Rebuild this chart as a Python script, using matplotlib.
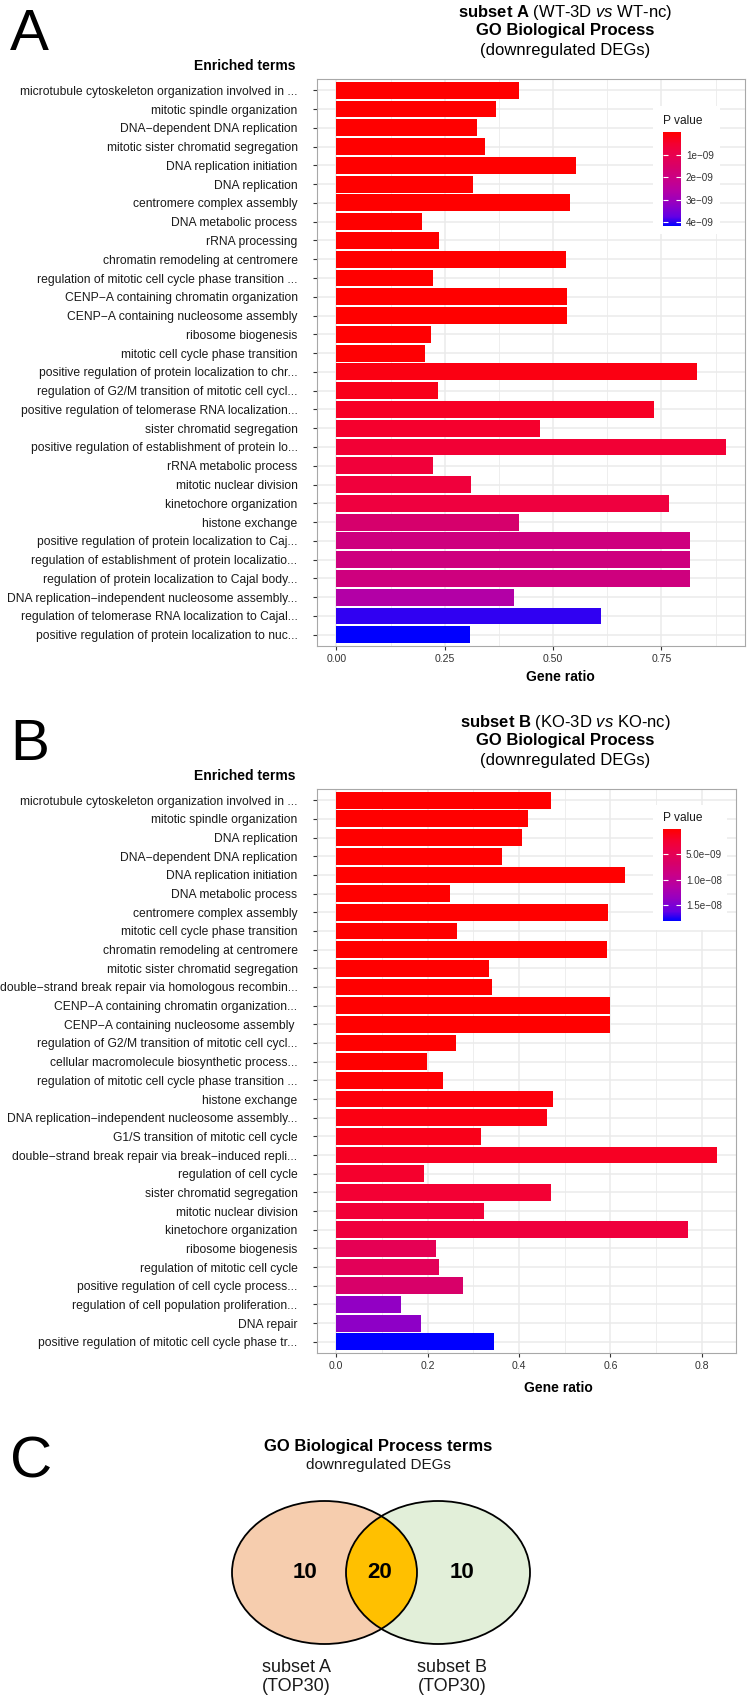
import numpy as np
import matplotlib
matplotlib.use("Agg")
import matplotlib.pyplot as plt
from matplotlib.colors import LinearSegmentedColormap, Normalize
from matplotlib.cm import ScalarMappable
from matplotlib.patches import Ellipse, Rectangle

plt.rcParams['font.family'] = ['Liberation Sans', 'DejaVu Sans']
plt.rcParams['mathtext.fontset'] = 'custom'
plt.rcParams['mathtext.rm'] = 'Liberation Sans'
plt.rcParams['mathtext.it'] = 'Liberation Sans:italic'
plt.rcParams['mathtext.bf'] = 'Liberation Sans:bold'

# ---- data, panel A (subset A) ----
terms_a = [
    "microtubule cytoskeleton organization involved in ...",
    "mitotic spindle organization",
    "DNA\u2212dependent DNA replication",
    "mitotic sister chromatid segregation",
    "DNA replication initiation",
    "DNA replication",
    "centromere complex assembly",
    "DNA metabolic process",
    "rRNA processing",
    "chromatin remodeling at centromere",
    "regulation of mitotic cell cycle phase transition ...",
    "CENP\u2212A containing chromatin organization",
    "CENP\u2212A containing nucleosome assembly",
    "ribosome biogenesis",
    "mitotic cell cycle phase transition",
    "positive regulation of protein localization to chr...",
    "regulation of G2/M transition of mitotic cell cycl...",
    "positive regulation of telomerase RNA localization...",
    "sister chromatid segregation",
    "positive regulation of establishment of protein lo...",
    "rRNA metabolic process",
    "mitotic nuclear division",
    "kinetochore organization",
    "histone exchange",
    "positive regulation of protein localization to Caj...",
    "regulation of establishment of protein localizatio...",
    "regulation of protein localization to Cajal body...",
    "DNA replication\u2212independent nucleosome assembly...",
    "regulation of telomerase RNA localization to Cajal...",
    "positive regulation of protein localization to nuc...",
]
ratio_a = [0.421, 0.368, 0.325, 0.342, 0.552, 0.314, 0.539, 0.198, 0.236, 0.530,
           0.223, 0.532, 0.532, 0.218, 0.205, 0.832, 0.234, 0.732, 0.470, 0.898,
           0.222, 0.310, 0.767, 0.421, 0.816, 0.816, 0.816, 0.410, 0.610, 0.308]
pval_a = [2.1e-17, 8.4e-16, 3.3e-15, 1.0e-14, 4.6e-14, 9.9e-14, 3.1e-13, 6.2e-13, 1.4e-12, 3.0e-12,
          6.5e-12, 1.1e-11, 1.1e-11, 2.4e-11, 4.8e-11, 2.1e-10, 2.7e-10, 4.0e-10, 4.8e-10, 6.0e-10,
          6.7e-10, 7.1e-10, 7.5e-10, 1.6e-09, 1.91e-09, 1.91e-09, 1.91e-09, 2.62e-09, 3.95e-09, 4.16e-09]

# ---- data, panel B (subset B) ----
terms_b = [
    "microtubule cytoskeleton organization involved in ...",
    "mitotic spindle organization",
    "DNA replication",
    "DNA\u2212dependent DNA replication",
    "DNA replication initiation",
    "DNA metabolic process",
    "centromere complex assembly",
    "mitotic cell cycle phase transition",
    "chromatin remodeling at centromere",
    "mitotic sister chromatid segregation",
    "double\u2212strand break repair via homologous recombin...",
    "CENP\u2212A containing chromatin organization...",
    "CENP\u2212A containing nucleosome assembly ",
    "regulation of G2/M transition of mitotic cell cycl...",
    "cellular macromolecule biosynthetic process...",
    "regulation of mitotic cell cycle phase transition ...",
    "histone exchange",
    "DNA replication\u2212independent nucleosome assembly...",
    "G1/S transition of mitotic cell cycle",
    "double\u2212strand break repair via break\u2212induced repli...",
    "regulation of cell cycle",
    "sister chromatid segregation",
    "mitotic nuclear division",
    "kinetochore organization",
    "ribosome biogenesis",
    "regulation of mitotic cell cycle",
    "positive regulation of cell cycle process...",
    "regulation of cell population proliferation...",
    "DNA repair",
    "positive regulation of mitotic cell cycle phase tr...",
]
ratio_b = [0.469, 0.420, 0.407, 0.364, 0.631, 0.250, 0.594, 0.264, 0.593, 0.334,
           0.341, 0.600, 0.600, 0.262, 0.198, 0.234, 0.474, 0.462, 0.318, 0.833,
           0.193, 0.470, 0.324, 0.769, 0.219, 0.225, 0.277, 0.143, 0.185, 0.345]
pval_b = [1.5e-16, 2.2e-15, 7.9e-15, 2.6e-14, 8.1e-14, 2.4e-13, 5.5e-13, 1.2e-12, 2.7e-12, 5.8e-12,
          1.0e-11, 1.6e-11, 1.6e-11, 3.2e-11, 6.1e-11, 1.1e-10, 5.4e-10, 9.0e-10, 1.18e-09, 1.63e-09,
          2.08e-09, 2.53e-09, 2.72e-09, 3.17e-09, 4.9e-09, 5.25e-09, 6.7e-09, 1.38e-08, 1.40e-08, 1.81e-08]

cbar_ticks_a = [1e-9, 2e-9, 3e-9, 4e-9]
cbar_labels_a = ["1e\u221209", "2e\u221209", "3e\u221209", "4e\u221209"]
cbar_ticks_b = [5e-9, 1e-8, 1.5e-8]
cbar_labels_b = ["5.0e\u221209", "1.0e\u221208", "1.5e\u221208"]

# ---- data, panel C (venn) ----
venn_counts = [10, 20, 10]
venn_sets = ["subset A\n(TOP30)", "subset B\n(TOP30)"]

W, H = 749, 1698
fig = plt.figure(figsize=(W / 100, H / 100), dpi=100)


def px(x0, y0, x1, y1):
    # pixel box (top-left origin) -> figure fraction rect
    return [x0 / W, 1 - y1 / H, (x1 - x0) / W, (y1 - y0) / H]


# ggplot red->blue gradient (Lab interpolated, sampled)
cmap = LinearSegmentedColormap.from_list("pv", [
    (0.0, "#FF0000"), (0.125, "#F40031"), (0.25, "#E80050"), (0.375, "#D7006A"),
    (0.5, "#C90088"), (0.625, "#B500A5"), (0.75, "#9700C0"), (0.9, "#6500E4"),
    (1.0, "#0000FF")])

TXT = "#333333"


def bar_panel(rect, terms, ratio, pval, major, minor, cb_rect, bg_rect, ticks, tlabels):
    ax = fig.add_axes(px(*rect))
    n = len(terms)
    norm = Normalize(min(pval), max(pval))
    ax.barh(np.arange(n), ratio, height=0.9, color=cmap(norm(np.array(pval))), zorder=2)
    xmax = max(ratio)
    ax.set_xlim(-0.05 * xmax, 1.05 * xmax)
    ax.set_ylim(n - 1 + 0.6, -0.6)
    ax.set_yticks(np.arange(n))
    ax.set_yticklabels(terms, fontsize=8.7, color="#1a1a1a")
    ax.set_xticks(major)
    ax.set_xticklabels(["%g" % v if len(str(v)) > 3 else str(v) for v in major])
    ax.set_xticks(minor, minor=True)
    ax.set_axisbelow(True)
    ax.grid(which="major", color="#EBEBEB", lw=1.1)
    ax.grid(which="minor", axis="x", color="#EBEBEB", lw=0.6)
    ax.tick_params(axis="y", length=3, width=0.8, color="#333333", pad=11)
    ax.tick_params(axis="x", length=3, width=0.8, color="#333333", pad=3,
                   labelsize=7.6, labelcolor=TXT)
    ax.tick_params(which="minor", length=0)
    for s in ax.spines.values():
        s.set_color("#A8A8A8")
        s.set_linewidth(0.8)
    # legend background
    ax.add_patch(Rectangle((bg_rect[0] / W, 1 - bg_rect[3] / H), (bg_rect[2] - bg_rect[0]) / W,
                           (bg_rect[3] - bg_rect[1]) / H, transform=fig.transFigure,
                           facecolor="white", edgecolor="none", zorder=1))
    cax = fig.add_axes(px(*cb_rect))
    cb = fig.colorbar(ScalarMappable(norm=norm, cmap=cmap), cax=cax)
    cb.outline.set_visible(False)
    cax.invert_yaxis()
    cb.set_ticks(ticks)
    cb.set_ticklabels(tlabels)
    cax.yaxis.set_ticks_position("both")
    cax.tick_params(direction="in", length=3.6, width=0.8, color="white",
                    labelsize=7.1, labelcolor=TXT, pad=3.6, labelleft=False, labelright=True)
    cax.minorticks_off()
    fig.text(cb_rect[0] / W, 1 - (cb_rect[1] - 11) / H, "P value", fontsize=8.6,
             color="#1a1a1a", ha="left", va="center")
    return ax


ax_a = bar_panel((317, 79, 745, 646), terms_a, ratio_a, pval_a,
                 [0.0, 0.25, 0.5, 0.75], [0.125, 0.375, 0.625, 0.875],
                 (663, 132, 681, 226), (653, 106, 720, 234), cbar_ticks_a, cbar_labels_a)
ax_a.set_xticklabels(["0.00", "0.25", "0.50", "0.75"])
ax_b = bar_panel((317, 789, 736, 1353), terms_b, ratio_b, pval_b,
                 [0.0, 0.2, 0.4, 0.6, 0.8], [0.1, 0.3, 0.5, 0.7],
                 (663, 829, 681, 921), (653, 805, 727, 930), cbar_ticks_b, cbar_labels_b)
ax_b.set_xticklabels(["0.0", "0.2", "0.4", "0.6", "0.8"])

# titles / axis titles
for top, sub in [(0, r"$\bf{subset\ A}$ (WT-3D $\it{vs}$ WT-nc)"),
                 (710, r"$\bf{subset\ B}$ (KO-3D $\it{vs}$ KO-nc)")]:
    cx = 565 / W
    fig.text(cx, 1 - (top + 13) / H, sub, fontsize=12, ha="center", va="center")
    fig.text(cx, 1 - (top + 31) / H, "GO Biological Process", fontsize=12,
             fontweight="bold", ha="center", va="center")
    fig.text(cx, 1 - (top + 50) / H, "(downregulated DEGs)", fontsize=12,
             ha="center", va="center")
    fig.text(296 / W, 1 - (top + 66) / H, "Enriched terms", fontsize=10,
             fontweight="bold", ha="right", va="center")

fig.text(560 / W, 1 - 677 / H, "Gene ratio", fontsize=10, fontweight="bold",
         ha="center", va="center")
fig.text(558 / W, 1 - 1388 / H, "Gene ratio", fontsize=10, fontweight="bold",
         ha="center", va="center")

# panel letters
fig.text(10 / W, 1 - 50 / H, "A", fontsize=42, ha="left", va="baseline")
fig.text(10 / W, 1 - 760 / H, "B", fontsize=42, ha="left", va="baseline")
fig.text(10 / W, 1 - 1477 / H, "C", fontsize=42, ha="left", va="baseline")

# ---- panel C venn ----
axv = fig.add_axes([0, 0, 1, 1])
axv.set_xlim(0, W)
axv.set_ylim(H, 0)
axv.axis("off")
axv.patch.set_alpha(0)

left = Ellipse((324.5, 1572.5), 185, 143, facecolor="#F6CDAE", edgecolor="none")
right = Ellipse((438, 1572.5), 184, 143, facecolor="#E2EFD9", edgecolor="none")
axv.add_patch(left)
axv.add_patch(right)
lens = Ellipse((438, 1572.5), 184, 143, facecolor="#FFC000", edgecolor="none")
axv.add_patch(lens)
lens.set_clip_path(left)
for e in [Ellipse((324.5, 1572.5), 185, 143), Ellipse((438, 1572.5), 184, 143)]:
    e.set_facecolor("none")
    e.set_edgecolor("black")
    e.set_linewidth(1.3)
    axv.add_patch(e)

for xpos, cnt in zip([305, 380, 462], venn_counts):
    axv.text(xpos, 1573, str(cnt), fontsize=16, fontweight="bold", ha="center", va="center")
for xpos, lab in zip([296, 452], venn_sets):
    axv.text(xpos, 1677, lab, fontsize=13, ha="center", va="center", color="#1a1a1a")

fig.text(378 / W, 1 - 1446 / H, "GO Biological Process terms", fontsize=12,
         fontweight="bold", ha="center", va="center")
fig.text(378 / W, 1 - 1465 / H, "downregulated DEGs", fontsize=11,
         ha="center", va="center", color="#1a1a1a")

plt.savefig("out.png", dpi=100)
